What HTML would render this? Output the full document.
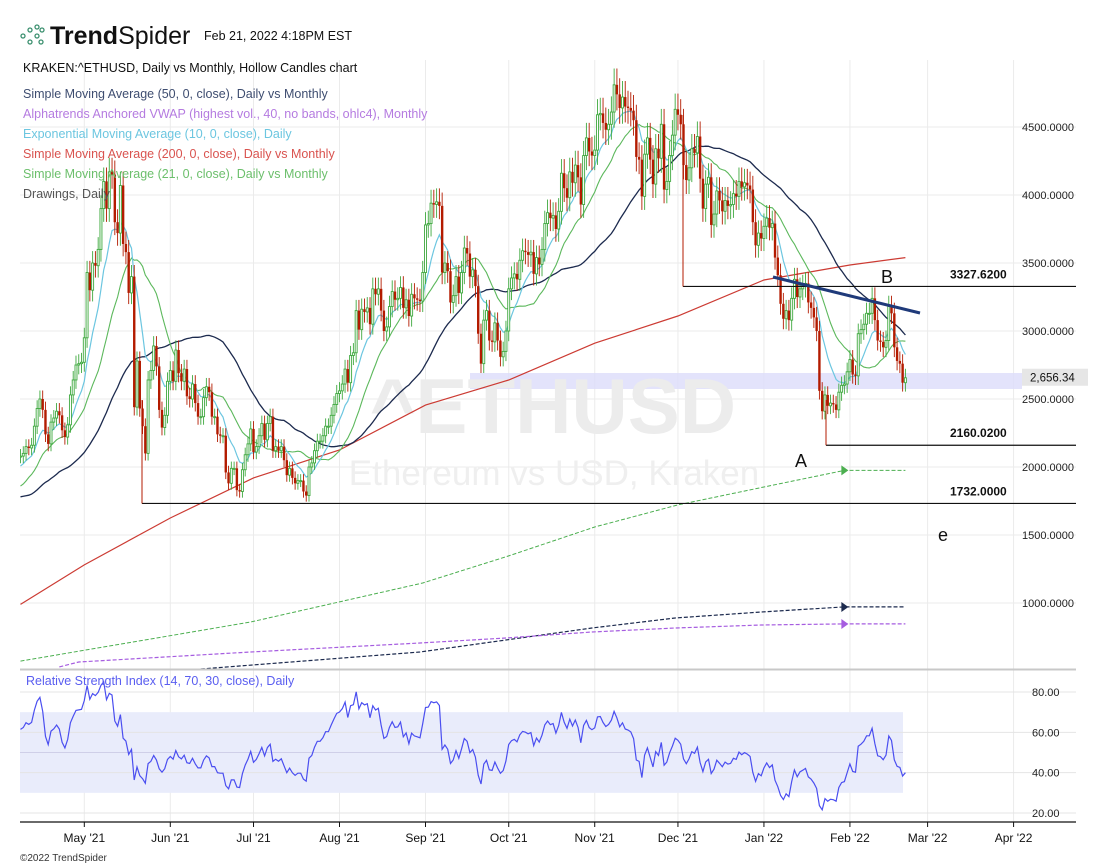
<!DOCTYPE html>
<html><head><meta charset="utf-8"><style>
body{margin:0;background:#fff;font-family:"Liberation Sans",sans-serif}
svg{display:block}
</style></head><body>
<svg id="c" width="1106" height="868" viewBox="0 0 1106 868" xmlns="http://www.w3.org/2000/svg" font-family="Liberation Sans, sans-serif">
<defs>
<clipPath id="pc"><rect x="20" y="60" width="1056" height="609"/></clipPath>
<clipPath id="rc"><rect x="20" y="671" width="1056" height="150"/></clipPath>
</defs>
<g id="grid"></g>
<rect x="470" y="373" width="552" height="16" fill="#dcdcfa" opacity="0.8"/>
<text x="553" y="433" font-size="78" font-weight="bold" fill="#ececec" text-anchor="middle">^ETHUSD</text>
<text x="554" y="485" font-size="35" fill="#efefef" text-anchor="middle">Ethereum vs USD, Kraken</text>
<g id="lines" clip-path="url(#pc)"></g>
<g id="candles" clip-path="url(#pc)"></g>
<g id="draw"></g>
<g id="rsi"></g>
<g id="axes"></g>
<g>
<g fill="none" stroke="#3a8f6e" stroke-width="1.3">
<circle cx="23" cy="36" r="2"/><circle cx="30" cy="30" r="2"/><circle cx="30" cy="42" r="2"/><circle cx="37" cy="27" r="2"/><circle cx="37" cy="36" r="2"/><circle cx="41" cy="42" r="2"/><circle cx="42" cy="30" r="2"/>
</g>
<text x="50" y="44" font-size="25" fill="#111"><tspan font-weight="bold">Trend</tspan><tspan font-weight="normal">Spider</tspan></text>
<text x="204" y="40" font-size="12.5" fill="#111">Feb 21, 2022 4:18PM EST</text>
<text x="23" y="72" font-size="12.5" fill="#111">KRAKEN:^ETHUSD, Daily vs Monthly, Hollow Candles chart</text>
<text x="23" y="98" font-size="12.5" fill="#3e4d70">Simple Moving Average (50, 0, close), Daily vs Monthly</text>
<text x="23" y="118" font-size="12.5" fill="#b57be0">Alphatrends Anchored VWAP (highest vol., 40, no bands, ohlc4), Monthly</text>
<text x="23" y="138" font-size="12.5" fill="#6cc6e0">Exponential Moving Average (10, 0, close), Daily</text>
<text x="23" y="158" font-size="12.5" fill="#d9534f">Simple Moving Average (200, 0, close), Daily vs Monthly</text>
<text x="23" y="178" font-size="12.5" fill="#6cbf6c">Simple Moving Average (21, 0, close), Daily vs Monthly</text>
<text x="23" y="198" font-size="12.5" fill="#555">Drawings, Daily</text>
<text x="26" y="685" font-size="12.5" fill="#5a5ef0">Relative Strength Index (14, 70, 30, close), Daily</text>
<text x="20" y="861" font-size="10" fill="#333">©2022 TrendSpider</text>
</g>
</svg>
<script>
const prior=[1800,1900,1950,1930,1780,1570,1620,1480,1450,1420,1570,1530,1650,1540,1520,1660,1720,1830,1870,1800,1820,1790,1770,1830,1930,1860,1790,1810,1780,1820,1780,1680,1580,1700,1690,1710,1580,1590,1700,1820,1840,1920,1970,2140,2080,2080,1970,2000,2060,2080];
const apr=[2080,2100,2150,2140,2160,2300,2430,2500,2420,2240,2170,2330,2360,2410,2380,2270,2220,2310,2530,2640,2750,2760,2770];
const may=[2950,3430,3300,3500,3480,3600,3900,4100,3900,4170,4150,3800,3720,4070,3640,3580,3280,3400,2440,2780,2430,2300,2100,2640,2710,2890,2740,2420,2290,2380,2630];
const jun=[2710,2630,2860,2690,2630,2720,2520,2500,2610,2470,2370,2370,2510,2590,2550,2370,2370,2240,2230,2230,1960,1880,1990,1990,1830,1820,1980,2090,2170,2280];
const jul=[2110,2150,2230,2320,2200,2320,2370,2120,2150,2120,2150,2050,1940,1990,1920,1880,1900,1900,1820,1790,2000,2030,2120,2190,2190,2230,2300,2300,2380,2460,2540];
const aug=[2560,2610,2720,2620,2820,2840,3150,3010,3160,3140,3170,3050,3310,3270,3310,3150,3000,3030,3180,3290,3230,3240,3320,3170,3230,3110,3270,3240,3230,3220,3430];
const sep=[3780,3790,3940,3930,3950,3920,3430,3500,3440,3210,3260,3400,3280,3430,3610,3570,3400,3450,3330,2980,2760,3080,3150,2930,2920,3060,2930,2810,2850,3000];
const oct=[3310,3390,3420,3380,3520,3590,3580,3560,3580,3420,3540,3490,3600,3790,3870,3830,3850,3750,3880,4160,4050,3980,4170,4090,4220,4130,3930,4290,4420,4320,4290];
const nov=[4330,4590,4600,4530,4480,4520,4610,4810,4740,4640,4720,4650,4640,4620,4550,4280,4260,3990,4300,4420,4260,4080,4340,4270,4520,4040,4100,4290,4440,4630];
const dec=[4590,4520,4220,4110,4200,4340,4310,4430,4120,3900,4080,4130,3780,3860,4030,3960,3880,3960,3920,3930,4010,3990,4100,4060,4090,4070,4040,3800,3630,3720,3680];
const jan=[3770,3830,3760,3790,3540,3410,3200,3090,3150,3080,3240,3380,3250,3310,3330,3350,3210,3170,3100,3000,2560,2410,2530,2450,2470,2460,2420,2550,2600,2610,2700];
const feb=[2790,2680,2670,2980,3010,3050,3130,3130,3240,3080,2930,2920,2880,2930,3180,3130,2880,2780,2760,2620,2656];
const sma200Days=[0,23,54,84,115,146,176,207,237,268,299,319];
const sma200Vals=[990,1280,1625,1920,2125,2455,2640,2910,3110,3375,3485,3540];
const vwapGreenDays=[0,83,145,176,207,237,268,297,319];
const vwapGreenVals=[573,860,1147,1346,1559,1721,1853,1975,1975];
const vwapNavyDays=[65,144,175,206,236,267,297,319];
const vwapNavyVals=[515,640,728,816,890,934,971,971];
const vwapPurpleDays=[14,21,83,144,175,206,236,267,297,319];
const vwapPurpleVals=[530,566,640,706,743,787,816,838,846,846];
const priceTicks=[4500,4000,3500,3000,2500,2000,1500,1000];
const rsiTicks=[80,60,40,20];
const monthLabels=["May '21","Jun '21","Jul '21","Aug '21","Sep '21","Oct '21","Nov '21","Dec '21","Jan '22","Feb '22","Mar '22","Apr '22"];
const monthDays=[23,54,84,115,146,176,207,237,268,299,327,358];

const closes=[].concat(apr,may,jun,jul,aug,sep,oct,nov,dec,jan,feb);
const all=prior.concat(closes);const P=prior.length;
const NS="http://www.w3.org/2000/svg";
const X=d=>20.5+d*2.774;
const Y=p=>127+(4500-p)*0.136;
const RY=v=>813-(v-20)*2.0167;
function mk(tag,attrs,parent){const e=document.createElementNS(NS,tag);for(const k in attrs)e.setAttribute(k,attrs[k]);parent.appendChild(e);return e;}
const G=id=>document.getElementById(id);

const grid=G('grid');
priceTicks.forEach(p=>{const l=mk('line',{x1:20,x2:1076,y1:Y(p),y2:Y(p),stroke:'#ebebeb'},grid);

});
monthDays.forEach(d=>{const l=mk('line',{x1:X(d),x2:X(d),y1:60,y2:822,stroke:'#ebebeb'},grid);

});

function sma(n){return closes.map((c,i)=>{let s=0;for(let k=0;k<n;k++)s+=all[P+i-k]!==undefined?all[P+i-k]:all[0];return s/n;});}
function ema(n){const a=2/(n+1);let e=all[0];const out=[];all.forEach((c,i)=>{e=i?a*c+(1-a)*e:c;if(i>=P)out.push(e);});return out;}
function poly(vals,color,w,name,dash,days){const pts=vals.map((v,i)=>X(days?days[i]:i).toFixed(1)+','+Y(v).toFixed(1)).join(' ');
const e=mk('polyline',{points:pts,fill:'none',stroke:color,'stroke-width':w},G('lines'));if(dash)e.setAttribute('stroke-dasharray',dash);

}
poly(sma200Vals,'#cc3b33',1.2,'sma200-line',null,sma200Days);
poly(vwapGreenVals,'#4caf50',1,'vwap-green-line','4,2',vwapGreenDays);
poly(vwapNavyVals,'#1c2a4e',1.2,'vwap-navy-line','4,2',vwapNavyDays);
poly(vwapPurpleVals,'#a65de0',1.2,'vwap-purple-line','4,2',vwapPurpleDays);
poly(sma(50),'#1c2a4e',1.3,'sma50-line');
poly(sma(21),'#5cb85c',1.1,'sma21-line');
poly(ema(10),'#6cc6e0',1.2,'ema10-line');

[[vwapGreenVals,'#4caf50'],[vwapNavyVals,'#1c2a4e'],[vwapPurpleVals,'#a65de0']].forEach(([arr,c])=>{const y=Y(arr[arr.length-1]),x=X(297)-3;
const t=mk('polygon',{points:`${x},${y-5} ${x+7},${y} ${x},${y+5}`,fill:c},G('draw'));

});

const cg=G('candles');
closes.forEach((c,i)=>{const o=i?closes[i-1]:all[P-1];const up=c>=o;const hi=Math.max(o,c)*1.025,lo=Math.min(o,c)*0.975;const x=X(i);
const col=up?'#3fa93f':'#b31b00';
const w=mk('line',{x1:x,x2:x,y1:Y(hi),y2:Y(lo),stroke:col,'stroke-width':0.9},cg);


const top=Y(Math.max(o,c)),h=Math.max(1,Y(Math.min(o,c))-top);
const r=up?mk('rect',{x:x-1,y:top,width:2,height:h,fill:'#fff',stroke:col,'stroke-width':0.9},cg):mk('rect',{x:x-1.2,y:top,width:2.4,height:h,fill:col},cg);

});

const dg=G('draw');
function ln(a,name,col,w){const e=mk('line',{x1:a[0],y1:a[1],x2:a[2],y2:a[3],stroke:col||'#111','stroke-width':w||1.2},dg);

}
ln([683,Y(3327.62),1076,Y(3327.62)],'level-3327-line');
ln([683,115,683,Y(3327.62)],'level-3327-anchor','#b31b00',1);
ln([826,Y(2160.02),1076,Y(2160.02)],'level-2160-line');
ln([826,400,826,Y(2160.02)],'level-2160-anchor','#b31b00',1);
ln([142,Y(1732),1076,Y(1732)],'level-1732-line');
ln([142,400,142,Y(1732)],'level-1732-anchor','#b31b00',1);
ln([773,277,920,313],'trendline','#1f3a7a',3);
[['3327.6200',Y(3327.62)-8],['2160.0200',Y(2160.02)-8],['1732.0000',Y(1732)-8]].forEach(([t,y])=>{const e=mk('text',{x:950,y:y,'font-size':12,'font-weight':'bold',fill:'#111'},dg);e.textContent=t;

});
[['B',881,283],['A',795,467],['e',938,541]].forEach(([t,x,y])=>{const e=mk('text',{x:x,y:y,'font-size':18,fill:'#111'},dg);e.textContent=t;

});

const ax=G('axes');
priceTicks.forEach(p=>{const e=mk('text',{x:1022,y:Y(p)+4,'font-size':11,fill:'#222'},ax);e.textContent=p.toFixed(4);

});
const pb=mk('rect',{x:1022,y:Y(2656.34)-9,width:66,height:17,fill:'#e6e6e6'},ax);


const pt=mk('text',{x:1030,y:Y(2656.34)+4,'font-size':11.5,fill:'#111'},ax);pt.textContent='2,656.34';


const sepLine=mk('line',{x1:20,x2:1076,y1:669.5,y2:669.5,stroke:'#c8c8c8','stroke-width':2},ax);


const bl=mk('line',{x1:20,x2:1076,y1:822,y2:822,stroke:'#111','stroke-width':1.2},ax);


monthDays.forEach((d,i)=>{const t=mk('line',{x1:X(d),x2:X(d),y1:822,y2:827,stroke:'#111'},ax);


const e=mk('text',{x:X(d),y:842,'font-size':12,fill:'#111','text-anchor':'middle'},ax);e.textContent=monthLabels[i];

});

const rg=G('rsi');
const band=mk('rect',{x:20,y:RY(70),width:883,height:RY(30)-RY(70),fill:'#e9ecfb'},rg);


rsiTicks.forEach(v=>{const l=mk('line',{x1:20,x2:1076,y1:RY(v),y2:RY(v),stroke:'#e4e4e4'},rg);


const e=mk('text',{x:1032,y:RY(v)+4,'font-size':11,fill:'#222'},rg);e.textContent=v.toFixed(2);

});
const mid=mk('line',{x1:20,x2:903,y1:RY(50),y2:RY(50),stroke:'#cfcfe8'},rg);


let ag=0,al=0;const rsi=[];
all.forEach((c,i)=>{if(!i)return;const ch=c-all[i-1];const g=Math.max(ch,0),l=Math.max(-ch,0);
if(i<=14){ag+=g/14;al+=l/14;}else{ag=(ag*13+g)/14;al=(al*13+l)/14;}
if(i>=P)rsi.push(al===0?100:100-100/(1+ag/al));});
const rl=mk('polyline',{points:rsi.map((v,i)=>X(i).toFixed(1)+','+RY(v).toFixed(1)).join(' '),fill:'none',stroke:'#4a4ef0','stroke-width':1.2,'clip-path':'url(#rc)'},rg);


</script>
</body></html>
